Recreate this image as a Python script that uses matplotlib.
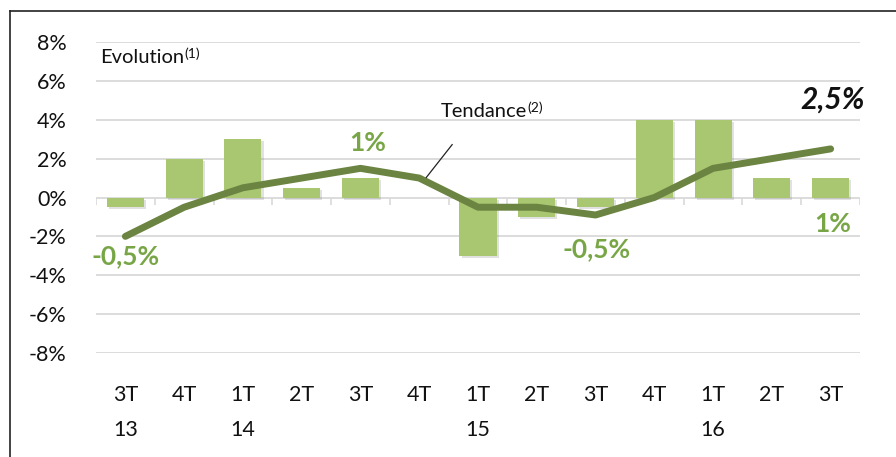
import matplotlib.pyplot as plt
import matplotlib.patheffects as pe
import numpy as np

plt.rcParams['font.family'] = ['Lato', 'DejaVu Sans']

# quarters and values (%)
quarters = ['3T\n13', '4T', '1T\n14', '2T', '3T', '4T', '1T\n15', '2T', '3T', '4T', '1T\n16', '2T', '3T']
evolution = [-0.5, 2, 3, 0.5, 1, 0, -3, -1, -0.5, 4, 4, 1, 1]
tendance = [-2, -0.5, 0.5, 1, 1.5, 1, -0.5, -0.5, -0.9, 0, 1.5, 2, 2.5]
yticks = [-8, -6, -4, -2, 0, 2, 4, 6, 8]

bar_color = '#a9c770'
line_color = '#6b8442'
label_green = '#78a646'

x = np.arange(len(quarters))

fig = plt.figure(figsize=(8.96, 4.57), dpi=100)
ax = fig.add_axes([96/896, (457-353)/457, (860-96)/896, 311/457])

# frame around the chart (left and top only visible in the reference)
fig.add_artist(plt.Line2D([10/896, 10/896], [0, (457-11)/457], color='#222222', lw=1.2))
fig.add_artist(plt.Line2D([10/896, 1], [(457-11)/457, (457-11)/457], color='#222222', lw=1.2))

ax.set_xlim(-0.5, len(quarters) - 0.5)
ax.set_ylim(-8, 8)
ax.set_yticks(yticks)
ax.set_yticklabels([f'{v}%' for v in yticks])
ax.grid(axis='y', color='#d9d9d9', lw=1.3)
ax.set_axisbelow(True)
for s in ax.spines.values():
    s.set_visible(False)
ax.tick_params(axis='y', length=0, pad=21, labelsize=15.5, labelcolor='#111111')
ax.set_xticks(x)
ax.set_xticklabels(quarters, linespacing=1.95, va='top')
ax.tick_params(axis='x', length=0, pad=23, labelsize=15.5, labelcolor='#111111')

# tick marks on the zero line between categories
ax.vlines(np.arange(len(quarters) + 1) - 0.5, -0.4, 0, color='#d9d9d9', lw=1.2, zorder=1)

bars = ax.bar(x, evolution, width=0.63, color=bar_color, zorder=2,
              path_effects=[pe.SimplePatchShadow(offset=(1.5, -1.5), shadow_rgbFace='#888888', alpha=0.25), pe.Normal()])

ax.plot(x, tendance, color=line_color, lw=5, solid_capstyle='round', zorder=3)

lbl = dict(color=label_green, fontsize=19, fontweight='bold', ha='center', va='center')
ax.text(0.0, -3.03, '-0,5%', **lbl)
ax.text(4.13, 2.82, '1%', **lbl)
ax.text(8.02, -2.67, '-0,5%', **lbl)
ax.text(12.04, -1.38, '1%', **lbl)
ax.text(12.04, 5.03, '2,5%', color='#111111', fontsize=21.5, fontweight='bold',
        fontstyle='italic', ha='center', va='center')

t1 = ax.text(-0.43, 7.2, 'Evolution', fontsize=14.5, color='#111111', ha='left', va='center')
ax.annotate('(1)', xy=(1, 0.75), xycoords=t1, fontsize=10, color='#111111', ha='left', va='center')
t2 = ax.text(5.37, 4.41, 'Tendance', fontsize=14.5, color='#111111', ha='left', va='center')
ax.annotate('(2)', xy=(1, 0.75), xycoords=t2, fontsize=10, color='#111111', ha='left', va='center')
ax.plot([5.56, 5.12], [2.72, 1.03], color='#222222', lw=0.9, zorder=4)

fig.savefig('out.png', dpi=100)
